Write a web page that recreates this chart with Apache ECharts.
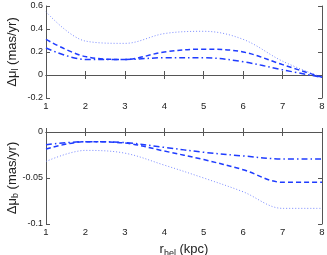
<!DOCTYPE html>
<html><head><meta charset="utf-8">
<script src="https://cdn.jsdelivr.net/npm/echarts@6/dist/echarts.min.js"></script>
<style>html,body{margin:0;padding:0;background:#fff}#c{width:327px;height:255px}</style>
</head><body><div id="c"></div>
<script>
const rhel = [1, 2, 3, 4, 5, 6, 7, 8];
// Top panel: Δμ_l
const muL_dotted  = [0.55, 0.295, 0.275, 0.36, 0.38, 0.31, 0.12, -0.02];
const muL_dashed  = [0.31, 0.16, 0.135, 0.20, 0.225, 0.20, 0.09, -0.02];
const muL_dashdot = [0.235, 0.135, 0.135, 0.15, 0.15, 0.115, 0.045, -0.02];
// Bottom panel: Δμ_b
const muB_dotted  = [-0.032, -0.020, -0.023, -0.036, -0.050, -0.065, -0.083, -0.083];
const muB_dashed  = [-0.0185, -0.0105, -0.012, -0.0207, -0.030, -0.041, -0.0547, -0.0547];
const muB_dashdot = [-0.0138, -0.0105, -0.0115, -0.0167, -0.022, -0.026, -0.0293, -0.0293];
const xTicks = [1, 2, 3, 4, 5, 6, 7, 8];

const FONT = 'Liberation Sans, Arial, sans-serif';
const axisCol = '#555';
const blue = '#1f3cff';
const lightBlue = '#7b8bff';

function pair(a, b) { return a.map((v, i) => [v, b[i]]); }

function xAxes(gi) {
  return [
    { type: 'value', gridIndex: gi, min: 1, max: 8, interval: 1, position: 'bottom',
      axisLine: { lineStyle: { color: axisCol, width: 1 } },
      axisTick: { inside: true, length: 4, lineStyle: { color: axisCol } },
      axisLabel: { color: '#222', fontSize: 9.5, fontFamily: FONT, margin: 3 },
      splitLine: { show: false },
      name: gi === 1 ? '{a|r}{s|hel}{a| (kpc)}' : '',
      nameLocation: 'middle', nameGap: 16,
      nameTextStyle: { rich: {
        a: { fontSize: 13, fontFamily: FONT, color: '#222' },
        s: { fontSize: 9, fontFamily: FONT, color: '#222', padding: [9, 0, 0, 0] } } } },
    { type: 'value', gridIndex: gi, min: 1, max: 8, interval: 1, position: 'top',
      axisLine: { lineStyle: { color: axisCol, width: 1 } },
      axisTick: { inside: true, length: 4, lineStyle: { color: axisCol } },
      axisLabel: { show: false }, splitLine: { show: false } }
  ];
}
function yAxes(gi, min, max, interval, sub, fmt) {
  return [
    { type: 'value', gridIndex: gi, min: min, max: max, interval: interval, position: 'left',
      axisLine: { show: true, lineStyle: { color: axisCol, width: 1 } },
      axisTick: { show: true, inside: true, length: 4, lineStyle: { color: axisCol } },
      axisLabel: { color: '#222', fontSize: 9, fontFamily: FONT, margin: 3, formatter: fmt },
      splitLine: { show: false },
      name: '{a|Δμ}{s|' + sub + '}{a| (mas/yr)}',
      nameLocation: 'middle', nameRotate: 90, nameGap: 26, nameMoveOverlap: false,
      nameTextStyle: { rich: {
        a: { fontSize: 13, fontFamily: FONT, color: '#222' },
        s: { fontSize: 9, fontFamily: FONT, color: '#222', padding: [7, 0, 0, 0] } } } },
    { type: 'value', gridIndex: gi, min: min, max: max, interval: interval, position: 'right',
      axisLine: { show: true, lineStyle: { color: axisCol, width: 1 } },
      axisTick: { show: true, inside: true, length: 4, lineStyle: { color: axisCol } },
      axisLabel: { show: false }, splitLine: { show: false } }
  ];
}
function ser(gi, data, type, color, width) {
  return { type: 'line', xAxisIndex: gi * 2, yAxisIndex: gi * 2, data: data,
    smooth: 0.35, showSymbol: false, symbol: 'none', silent: true,
    lineStyle: { color: color, width: width, type: type } };
}
const fmtL = v => (Math.abs(v) < 1e-9 ? '0' : String(Math.round(v * 10) / 10));
const fmtB = v => (Math.abs(v) < 1e-9 ? '0' : String(Math.round(v * 100) / 100));

const chart = echarts.init(document.getElementById('c'), null, { renderer: 'canvas' });
chart.setOption({
  animation: false,
  backgroundColor: '#fff',
  grid: [
    { left: 46, top: 6, width: 276, height: 92, containLabel: false, outerBoundsMode: 'none' },
    { left: 46, top: 132, width: 276, height: 92, containLabel: false, outerBoundsMode: 'none' }
  ],
  xAxis: [...xAxes(0), ...xAxes(1)],
  yAxis: [...yAxes(0, -0.2, 0.6, 0.2, 'l', fmtL), ...yAxes(1, -0.1, 0, 0.05, 'b', fmtB)],
  series: [
    ser(0, pair(rhel, muL_dotted), [1, 2], lightBlue, 1),
    ser(0, pair(rhel, muL_dashed), [5, 3], blue, 1.5),
    ser(0, pair(rhel, muL_dashdot), [6, 3, 1.5, 3], blue, 1.5),
    ser(1, pair(rhel, muB_dotted), [1, 2], lightBlue, 1),
    ser(1, pair(rhel, muB_dashed), [5, 3], blue, 1.5),
    ser(1, pair(rhel, muB_dashdot), [6, 3, 1.5, 3], blue, 1.5)
  ]
});
</script></body></html>
